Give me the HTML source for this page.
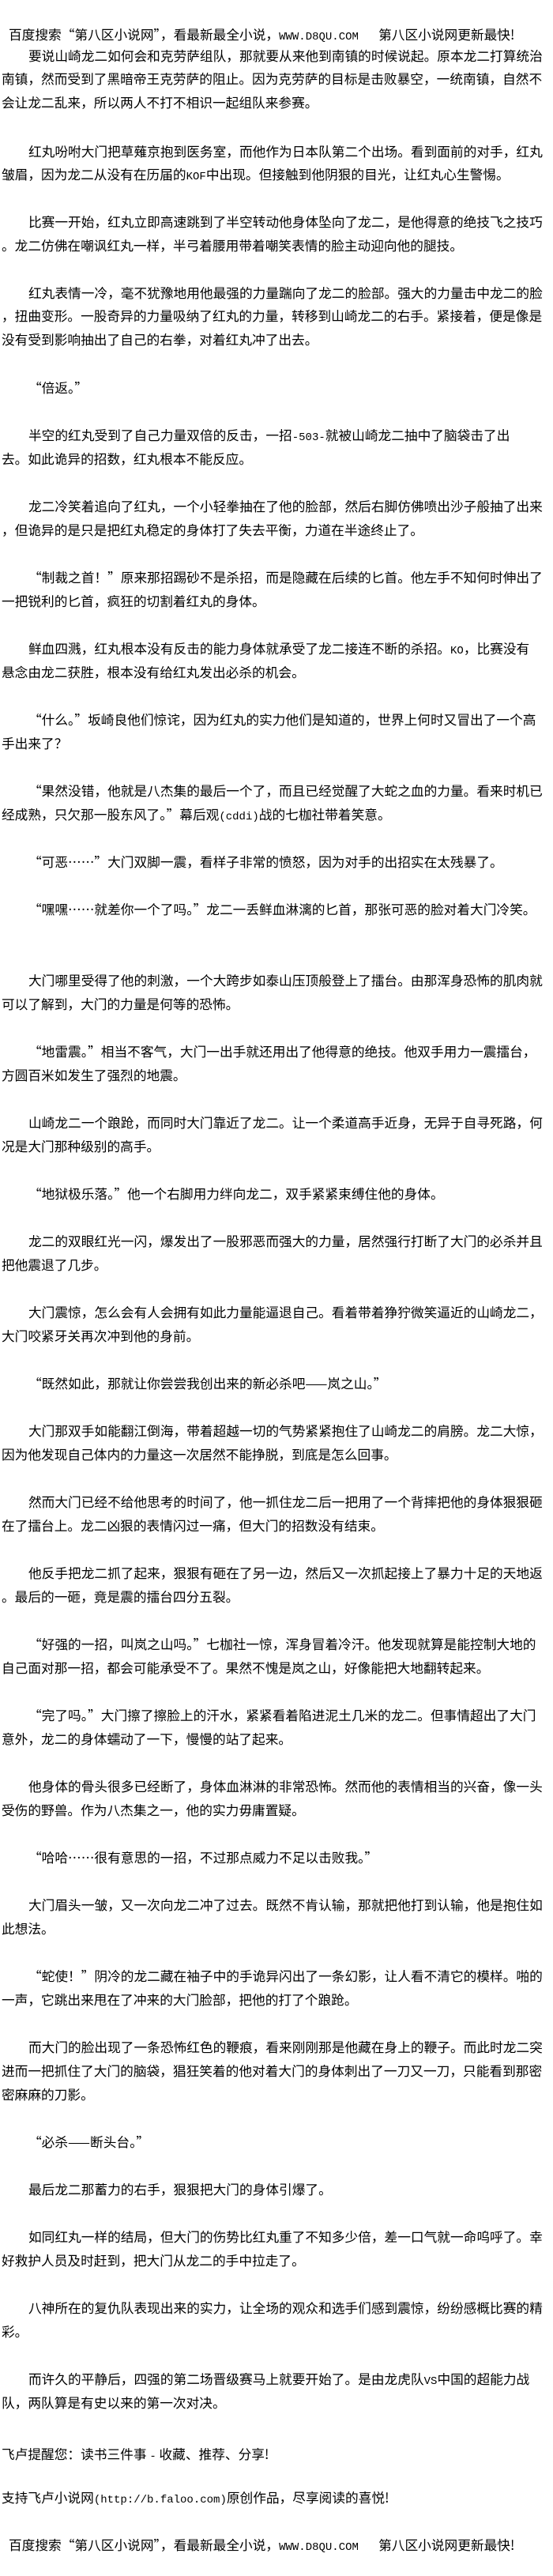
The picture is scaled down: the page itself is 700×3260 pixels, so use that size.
<!DOCTYPE html>
<html><head><meta charset="utf-8">
<style>
html,body{margin:0;padding:0;background:#fff;}
body{width:700px;height:3260px;position:relative;overflow:hidden;
font-family:"Noto Sans CJK SC","WenQuanYi Zen Hei","Liberation Sans",sans-serif;font-size:16.7px;color:#000;}
.l{position:absolute;white-space:nowrap;line-height:20px;height:20px;}
.i{left:36px;}
.n{left:2px;}
.h{left:11px;}
.m{font-family:"Liberation Mono",monospace;font-size:14px;}
</style></head><body>
<div class="l h" style="top:33px">百度搜索“第八区小说网”，看最新最全小说，<span class="m">WWW.D8QU.COM&nbsp;&nbsp;&nbsp;</span>第八区小说网更新最快!</div>
<div class="l i" style="top:60px">要说山崎龙二如何会和克劳萨组队，那就要从来他到南镇的时候说起。原本龙二打算统治</div>
<div class="l n" style="top:89px">南镇，然而受到了黑暗帝王克劳萨的阻止。因为克劳萨的目标是击败暴空，一统南镇，自然不</div>
<div class="l n" style="top:119px">会让龙二乱来，所以两人不打不相识一起组队来参赛。</div>
<div class="l i" style="top:181px">红丸吩咐大门把草薙京抱到医务室，而他作为日本队第二个出场。看到面前的对手，红丸</div>
<div class="l n" style="top:210px">皱眉，因为龙二从没有在历届的<span class="m">KOF</span>中出现。但接触到他阴狠的目光，让红丸心生警惕。</div>
<div class="l i" style="top:270px">比赛一开始，红丸立即高速跳到了半空转动他身体坠向了龙二，是他得意的绝技飞之技巧</div>
<div class="l n" style="top:300px">。龙二仿佛在嘲讽红丸一样，半弓着腰用带着嘲笑表情的脸主动迎向他的腿技。</div>
<div class="l i" style="top:360px">红丸表情一冷，毫不犹豫地用他最强的力量踹向了龙二的脸部。强大的力量击中龙二的脸</div>
<div class="l n" style="top:389px">，扭曲变形。一股奇异的力量吸纳了红丸的力量，转移到山崎龙二的右手。紧接着，便是像是</div>
<div class="l n" style="top:419px">没有受到影响抽出了自己的右拳，对着红丸冲了出去。</div>
<div class="l i" style="top:480px">“倍返。”</div>
<div class="l i" style="top:540px">半空的红丸受到了自己力量双倍的反击，一招<span class="m">-503-</span>就被山崎龙二抽中了脑袋击了出</div>
<div class="l n" style="top:570px">去。如此诡异的招数，红丸根本不能反应。</div>
<div class="l i" style="top:630px">龙二冷笑着追向了红丸，一个小轻拳抽在了他的脸部，然后右脚仿佛喷出沙子般抽了出来</div>
<div class="l n" style="top:660px">，但诡异的是只是把红丸稳定的身体打了失去平衡，力道在半途终止了。</div>
<div class="l i" style="top:720px">“制裁之首！”原来那招踢砂不是杀招，而是隐藏在后续的匕首。他左手不知何时伸出了</div>
<div class="l n" style="top:750px">一把锐利的匕首，疯狂的切割着红丸的身体。</div>
<div class="l i" style="top:810px">鲜血四溅，红丸根本没有反击的能力身体就承受了龙二接连不断的杀招。<span class="m">KO</span>，比赛没有</div>
<div class="l n" style="top:840px">悬念由龙二获胜，根本没有给红丸发出必杀的机会。</div>
<div class="l i" style="top:900px">“什么。”坂崎良他们惊诧，因为红丸的实力他们是知道的，世界上何时又冒出了一个高</div>
<div class="l n" style="top:930px">手出来了？</div>
<div class="l i" style="top:990px">“果然没错，他就是八杰集的最后一个了，而且已经觉醒了大蛇之血的力量。看来时机已</div>
<div class="l n" style="top:1020px">经成熟，只欠那一股东风了。”幕后观<span class="m">(cddi)</span>战的七枷社带着笑意。</div>
<div class="l i" style="top:1080px">“可恶……”大门双脚一震，看样子非常的愤怒，因为对手的出招实在太残暴了。</div>
<div class="l i" style="top:1140px">“嘿嘿……就差你一个了吗。”龙二一丢鲜血淋漓的匕首，那张可恶的脸对着大门冷笑。</div>
<div class="l i" style="top:1230px">大门哪里受得了他的刺激，一个大跨步如泰山压顶般登上了擂台。由那浑身恐怖的肌肉就</div>
<div class="l n" style="top:1260px">可以了解到，大门的力量是何等的恐怖。</div>
<div class="l i" style="top:1320px">“地雷震。”相当不客气，大门一出手就还用出了他得意的绝技。他双手用力一震擂台，</div>
<div class="l n" style="top:1350px">方圆百米如发生了强烈的地震。</div>
<div class="l i" style="top:1410px">山崎龙二一个踉跄，而同时大门靠近了龙二。让一个柔道高手近身，无异于自寻死路，何</div>
<div class="l n" style="top:1440px">况是大门那种级别的高手。</div>
<div class="l i" style="top:1500px">“地狱极乐落。”他一个右脚用力绊向龙二，双手紧紧束缚住他的身体。</div>
<div class="l i" style="top:1560px">龙二的双眼红光一闪，爆发出了一股邪恶而强大的力量，居然强行打断了大门的必杀并且</div>
<div class="l n" style="top:1590px">把他震退了几步。</div>
<div class="l i" style="top:1650px">大门震惊，怎么会有人会拥有如此力量能逼退自己。看着带着狰狞微笑逼近的山崎龙二，</div>
<div class="l n" style="top:1680px">大门咬紧牙关再次冲到他的身前。</div>
<div class="l i" style="top:1740px">“既然如此，那就让你尝尝我创出来的新必杀吧——岚之山。”</div>
<div class="l i" style="top:1800px">大门那双手如能翻江倒海，带着超越一切的气势紧紧抱住了山崎龙二的肩膀。龙二大惊，</div>
<div class="l n" style="top:1830px">因为他发现自己体内的力量这一次居然不能挣脱，到底是怎么回事。</div>
<div class="l i" style="top:1890px">然而大门已经不给他思考的时间了，他一抓住龙二后一把用了一个背摔把他的身体狠狠砸</div>
<div class="l n" style="top:1920px">在了擂台上。龙二凶狠的表情闪过一痛，但大门的招数没有结束。</div>
<div class="l i" style="top:1980px">他反手把龙二抓了起来，狠狠有砸在了另一边，然后又一次抓起接上了暴力十足的天地返</div>
<div class="l n" style="top:2010px">。最后的一砸，竟是震的擂台四分五裂。</div>
<div class="l i" style="top:2070px">“好强的一招，叫岚之山吗。”七枷社一惊，浑身冒着冷汗。他发现就算是能控制大地的</div>
<div class="l n" style="top:2100px">自己面对那一招，都会可能承受不了。果然不愧是岚之山，好像能把大地翻转起来。</div>
<div class="l i" style="top:2160px">“完了吗。”大门擦了擦脸上的汗水，紧紧看着陷进泥土几米的龙二。但事情超出了大门</div>
<div class="l n" style="top:2190px">意外，龙二的身体蠕动了一下，慢慢的站了起来。</div>
<div class="l i" style="top:2250px">他身体的骨头很多已经断了，身体血淋淋的非常恐怖。然而他的表情相当的兴奋，像一头</div>
<div class="l n" style="top:2280px">受伤的野兽。作为八杰集之一，他的实力毋庸置疑。</div>
<div class="l i" style="top:2340px">“哈哈……很有意思的一招，不过那点威力不足以击败我。”</div>
<div class="l i" style="top:2400px">大门眉头一皱，又一次向龙二冲了过去。既然不肯认输，那就把他打到认输，他是抱住如</div>
<div class="l n" style="top:2430px">此想法。</div>
<div class="l i" style="top:2490px">“蛇使！”阴冷的龙二藏在袖子中的手诡异闪出了一条幻影，让人看不清它的模样。啪的</div>
<div class="l n" style="top:2520px">一声，它跳出来甩在了冲来的大门脸部，把他的打了个踉跄。</div>
<div class="l i" style="top:2580px">而大门的脸出现了一条恐怖红色的鞭痕，看来刚刚那是他藏在身上的鞭子。而此时龙二突</div>
<div class="l n" style="top:2610px">进而一把抓住了大门的脑袋，猖狂笑着的他对着大门的身体刺出了一刀又一刀，只能看到那密</div>
<div class="l n" style="top:2640px">密麻麻的刀影。</div>
<div class="l i" style="top:2700px">“必杀——断头台。”</div>
<div class="l i" style="top:2760px">最后龙二那蓄力的右手，狠狠把大门的身体引爆了。</div>
<div class="l i" style="top:2820px">如同红丸一样的结局，但大门的伤势比红丸重了不知多少倍，差一口气就一命呜呼了。幸</div>
<div class="l n" style="top:2850px">好救护人员及时赶到，把大门从龙二的手中拉走了。</div>
<div class="l i" style="top:2910px">八神所在的复仇队表现出来的实力，让全场的观众和选手们感到震惊，纷纷感概比赛的精</div>
<div class="l n" style="top:2940px">彩。</div>
<div class="l i" style="top:3000px">而许久的平静后，四强的第二场晋级赛马上就要开始了。是由龙虎队<span class="m">VS</span>中国的超能力战</div>
<div class="l n" style="top:3030px">队，两队算是有史以来的第一次对决。</div>
<div class="l n" style="top:3095px">飞卢提醒您：读书三件事 <span class="m">-</span> 收藏、推荐、分享!</div>
<div class="l n" style="top:3150px">支持飞卢小说网<span class="m">(http://b.faloo.com)</span>原创作品，尽享阅读的喜悦!</div>
<div class="l h" style="top:3210px">百度搜索“第八区小说网”，看最新最全小说，<span class="m">WWW.D8QU.COM&nbsp;&nbsp;&nbsp;</span>第八区小说网更新最快!</div>
</body></html>
